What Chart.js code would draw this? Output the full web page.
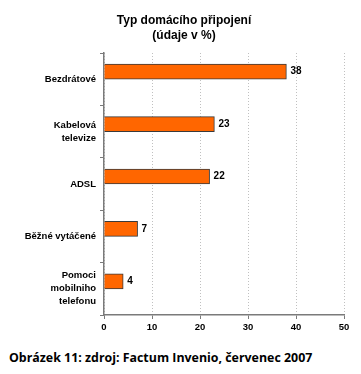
<!DOCTYPE html>
<html>
<head>
<meta charset="utf-8">
<script src="https://cdn.jsdelivr.net/npm/chart.js@4.4.0/dist/chart.umd.min.js"></script>
<style>
  body { margin: 0; background: #fff; }
  #wrap { position: relative; width: 361px; height: 374px; }
  #caption {
    position: absolute; left: 9px; top: 349px;
    font: bold 12.4px "Open Sans", sans-serif; color: #000; white-space: nowrap;
  }
</style>
</head>
<body>
<div id="wrap">
  <canvas id="connChart" width="361" height="340"></canvas>
  <div id="caption">Obrázek 11: zdroj: Factum Invenio, červenec 2007</div>
</div>
<script>
// Data
const categories = ['Bezdrátové', ['Kabelová', 'televize'], 'ADSL', 'Běžné vytáčené', ['Pomoci', 'mobilniho', 'telefonu']];
const shares = [38, 23, 22, 7, 4];
const xTicks = [0, 10, 20, 30, 40, 50];

// Value labels next to each bar
const valueLabels = {
    id: 'valueLabels',
    afterDatasetsDraw(chart) {
        const ctx = chart.ctx;
        const meta = chart.getDatasetMeta(0);
        ctx.save();
        ctx.font = 'bold 10px "Liberation Sans", Arial, sans-serif';
        ctx.fillStyle = '#000';
        ctx.textBaseline = 'middle';
        meta.data.forEach((bar, i) => {
            ctx.fillText(shares[i], bar.x + 4, bar.y);
        });
        ctx.restore();
    }
};

const config = {
    type: 'bar',
    data: {
        labels: categories,
        datasets: [
            {
                data: shares,
                backgroundColor: '#ff6600',
                borderColor: '#3a3a3a',
                borderWidth: 1,
                barThickness: 15
            },
            {
                // empty second series, keeps the bars in the upper half like the original
                data: [],
                barThickness: 15
            }
        ]
    },
    options: {
        indexAxis: 'y',
        responsive: false,
        animation: false,
        layout: { padding: { left: 24, right: 17, top: 0, bottom: 0 } },
        scales: {
            x: {
                min: 0,
                max: 50,
                afterBuildTicks: (scale) => { scale.ticks = xTicks.map(v => ({ value: v })); },
                afterFit: (scale) => { scale.height = 25; },
                grid: {
                    color: '#c0c0c0',
                    tickColor: '#7a7a7a',
                    tickLength: 4,
                    tickBorderDash: [],
                    drawTicks: true
                },
                border: { color: '#7a7a7a', width: 1.5, dash: [1, 2] },
                ticks: {
                    color: '#000',
                    padding: 3,
                    font: { family: '"Liberation Sans", Arial, sans-serif', size: 9.5, weight: 'bold' }
                }
            },
            y: {
                afterFit: (scale) => { scale.width = 80; },
                grid: {
                    offset: true,
                    drawOnChartArea: false,
                    tickColor: '#7a7a7a',
                    tickLength: 4
                },
                border: { color: '#7a7a7a', width: 1.5 },
                ticks: {
                    color: '#000',
                    padding: 4,
                    font: { family: '"Liberation Sans", Arial, sans-serif', size: 9.5, weight: 'bold', lineHeight: 1.37 }
                }
            }
        },
        plugins: {
            legend: { display: false },
            tooltip: { enabled: false },
            title: {
                display: true,
                text: ['Typ domácího připojení', '(údaje v %)'],
                color: '#000',
                font: { family: '"Liberation Sans", Arial, sans-serif', size: 12, weight: 'bold', lineHeight: 1.25 },
                padding: { top: 13, bottom: 10 }
            }
        }
    },
    plugins: [valueLabels]
};

const connChart = new Chart(document.getElementById('connChart'), config);
</script>
</body>
</html>
